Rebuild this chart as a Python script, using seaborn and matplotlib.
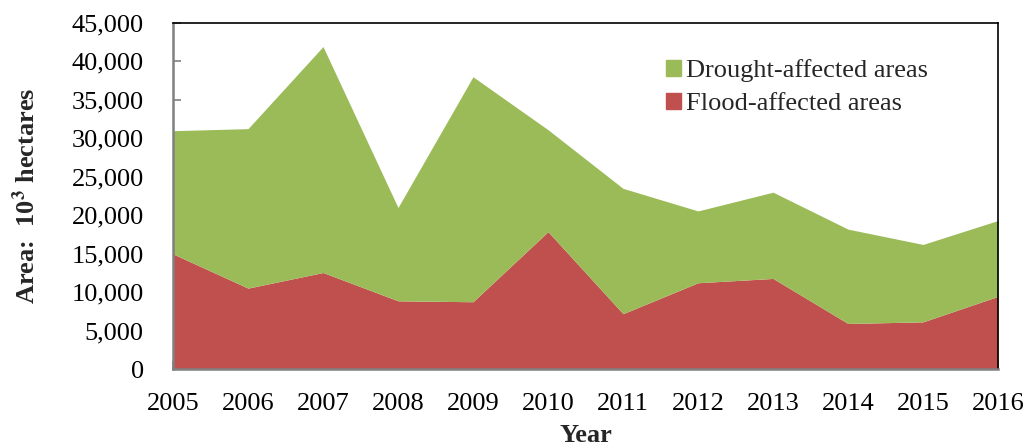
import numpy as np
import pandas as pd
import matplotlib.pyplot as plt
import seaborn as sns
from matplotlib.patches import Patch

years = [2005, 2006, 2007, 2008, 2009, 2010, 2011, 2012, 2013, 2014, 2015, 2016]
flood = [14967, 10522, 12548, 8867, 8748, 17866, 7192, 11218, 11777, 5919, 6132, 9443]
drought = [16028, 20738, 29386, 12137, 29259, 13259, 16304, 9340, 11220, 12272, 10067, 9873]

flood_color = '#C0504D'
drought_color = '#9BBB59'

sns.set_style('white')
plt.rcParams['font.family'] = ['Liberation Serif', 'DejaVu Serif']
plt.rcParams['mathtext.fontset'] = 'stix'

df = pd.DataFrame({'Year': years, 'Flood': flood, 'Drought': drought})

fig = plt.figure(figsize=(10.25, 4.46), dpi=100)
ax = fig.add_axes([173 / 1025, 1 - 369 / 446, 825 / 1025, 346 / 446])

ax.stackplot(df['Year'], df['Flood'], df['Drought'],
             colors=[flood_color, drought_color], linewidth=0)

ax.set_xlim(2005, 2016)
ax.set_ylim(0, 45000)
ax.set_xticks(years)
ax.set_yticks(np.arange(0, 45001, 5000))
ax.yaxis.set_major_formatter(plt.FuncFormatter(lambda v, p: f'{int(v):,}'))

ax.tick_params(axis='both', direction='in', length=6, width=1.2, color='#808080',
               labelsize=19, labelcolor='black')
ax.tick_params(axis='x', pad=17)
ax.tick_params(axis='y', pad=21)
ax.tick_params(top=False, right=False, bottom=True, left=True)

for side in ['left', 'bottom']:
    ax.spines[side].set_color('#808080')
    ax.spines[side].set_linewidth(1.8)
for side in ['top', 'right']:
    ax.spines[side].set_color('black')
    ax.spines[side].set_linewidth(1.2)

ax.set_xlabel('Year', fontsize=19, fontweight='bold', labelpad=7)
ax.set_ylabel('Area:  10$^\\mathbf{3}$ hectares', fontsize=19, fontweight='bold', labelpad=23)

handles = [Patch(color=drought_color, label='Drought-affected areas'),
           Patch(color=flood_color, label='Flood-affected areas')]
ax.legend(handles=handles, loc='upper left', bbox_to_anchor=(0.585, 0.925),
          frameon=False, fontsize=19, handlelength=0.55, handleheight=0.55,
          handletextpad=0.2, labelspacing=0.4, borderaxespad=0)

fig.savefig('out.png', dpi=100)
